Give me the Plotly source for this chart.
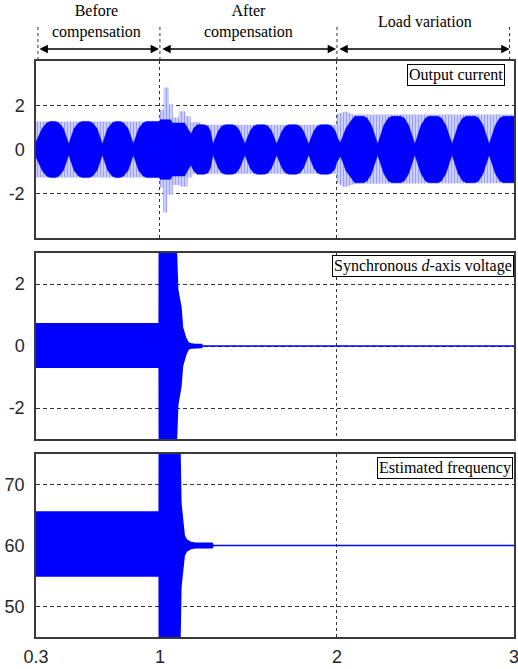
import plotly.graph_objects as go

# ---------------- data ----------------
# x-axis (time, s)
x_ticks = [0.3, 1, 2, 3]
x_tick_text = ["0.3", "1", "2", "3"]

# Output current: outer envelope of the oscillation (upper / lower edge)
cur_up_t = [0.30, 0.998, 1.0, 1.021, 1.022, 1.050, 1.051, 1.072, 1.073, 1.106, 1.107, 1.145,
            1.146, 1.173, 1.174, 1.229, 1.230, 1.998, 2.0, 2.05, 2.09, 3.0]
cur_up = [1.27, 1.27, 1.80, 1.80, 2.80, 2.80, 2.05, 2.05, 1.45, 1.45, 1.73, 1.73,
          1.50, 1.50, 1.23, 1.23, 1.12, 1.12, 1.60, 1.72, 1.58, 1.58]
cur_lo_t = [0.30, 0.998, 1.0, 1.018, 1.019, 1.040, 1.041, 1.072, 1.073, 1.117, 1.118, 1.156,
            1.157, 1.184, 1.185, 1.998, 2.0, 2.04, 2.10, 3.0]
cur_lo = [-1.27, -1.27, -1.73, -1.73, -2.85, -2.85, -2.05, -2.05, -1.60, -1.60, -1.68, -1.68,
          -1.27, -1.27, -1.10, -1.10, -1.50, -1.72, -1.55, -1.52]

# Output current: dense (dark) core half-width, beating between lobes and waists
core_t = [0.300, 0.315, 0.335, 0.360, 0.380, 0.410, 0.430, 0.455, 0.470, 0.485,
          0.500, 0.515, 0.540, 0.560, 0.600, 0.620, 0.645, 0.660, 0.675,
          0.690, 0.705, 0.730, 0.750, 0.775, 0.795, 0.820, 0.835, 0.850,
          0.865, 0.880, 0.905, 0.925, 0.998,
          1.000, 1.060, 1.070, 1.140, 1.160, 1.175, 1.190, 1.210, 1.250,
          1.270, 1.285, 1.300, 1.315, 1.330, 1.350, 1.370, 1.410,
          1.430, 1.450, 1.465, 1.480, 1.495, 1.510, 1.530, 1.550, 1.590,
          1.610, 1.630, 1.645, 1.660, 1.675, 1.690, 1.710, 1.730, 1.770,
          1.790, 1.810, 1.825, 1.840, 1.855, 1.870, 1.890, 1.910, 1.950,
          1.970, 1.990, 1.998, 2.005, 2.020, 2.035, 2.050, 2.080, 2.100, 2.150,
          2.170, 2.195, 2.213, 2.230, 2.247, 2.265, 2.290, 2.310, 2.360,
          2.380, 2.405, 2.423, 2.440, 2.457, 2.475, 2.500, 2.520, 2.570,
          2.590, 2.615, 2.633, 2.650, 2.667, 2.685, 2.710, 2.730, 2.780,
          2.800, 2.825, 2.843, 2.860, 2.877, 2.895, 2.920, 2.940, 3.000]
core_hw = [0.35, 0.60, 0.95, 1.20, 1.27, 1.27, 1.20, 0.95, 0.60, 0.25,
           0.60, 0.95, 1.20, 1.27, 1.27, 1.20, 0.95, 0.60, 0.25,
           0.60, 0.95, 1.20, 1.27, 1.27, 1.20, 0.95, 0.60, 0.25,
           0.60, 0.95, 1.20, 1.27, 1.27,
           1.35, 1.35, 1.20, 1.20, 0.90, 0.70, 0.95, 1.12, 1.12,
           1.06, 0.85, 0.25, 0.55, 0.85, 1.06, 1.12, 1.12,
           1.06, 0.85, 0.55, 0.25, 0.55, 0.85, 1.06, 1.12, 1.12,
           1.06, 0.85, 0.55, 0.25, 0.55, 0.85, 1.06, 1.12, 1.12,
           1.06, 0.85, 0.55, 0.25, 0.55, 0.85, 1.06, 1.12, 1.12,
           1.06, 0.85, 0.60, 0.50, 0.30, 0.60, 0.95, 1.30, 1.50, 1.50,
           1.42, 1.10, 0.65, 0.25, 0.65, 1.10, 1.42, 1.50, 1.50,
           1.42, 1.10, 0.65, 0.25, 0.65, 1.10, 1.42, 1.50, 1.50,
           1.42, 1.10, 0.65, 0.25, 0.65, 1.10, 1.42, 1.50, 1.50,
           1.42, 1.10, 0.65, 0.25, 0.65, 1.10, 1.42, 1.50, 1.50]

# Synchronous d-axis voltage: envelope
vd_t = [0.30, 0.996, 0.997, 1.090, 1.100, 1.118, 1.127, 1.145, 1.160, 1.180, 1.200, 1.235, 1.240, 3.0]
vd_up = [0.72, 0.72, 3.50, 3.50, 1.80, 1.26, 0.60, 0.25, 0.10, 0.06, 0.05, 0.05, 0.0, 0.0]
vd_lo = [-0.68, -0.68, -3.50, -3.50, -1.90, -1.30, -0.65, -0.28, -0.10, -0.06, -0.05, -0.05, 0.0, 0.0]

# Estimated frequency: envelope
f_t = [0.30, 0.996, 0.997, 1.110, 1.118, 1.127, 1.137, 1.150, 1.174, 1.200, 1.295, 1.300, 3.0]
f_up = [65.5, 65.5, 80.0, 80.0, 66.9, 64.2, 61.6, 60.9, 60.5, 60.35, 60.35, 60.0, 60.0]
f_lo = [55.0, 55.0, 40.0, 40.0, 53.2, 55.8, 58.4, 59.1, 59.5, 59.65, 59.65, 60.0, 60.0]

# ---------------- figure ----------------
BLUE = "#0000ff"
STRIPE = "#4f58ff"
GRID = "#333333"
FRAME = "#3a3a3a"
W, H = 518, 669


def band(t_up, up, t_lo, lo):
    """Closed polygon: upper edge left-to-right, lower edge right-to-left."""
    return list(t_up) + list(t_lo)[::-1], list(up) + list(lo)[::-1]


fig = go.Figure()

# Output current
bx, by = band(cur_up_t, cur_up, cur_lo_t, cur_lo)
fig.add_trace(go.Scatter(
    x=bx, y=by, fill="toself", mode="lines", line=dict(width=0, color=STRIPE),
    fillcolor="rgba(0,0,0,0)",
    fillpattern=dict(shape="|", fgcolor=STRIPE, bgcolor="#e4e6ff", size=3, solidity=0.55),
    hoverinfo="skip", xaxis="x", yaxis="y"))
cx, cy = band(core_t, core_hw, core_t, [-v for v in core_hw])
fig.add_trace(go.Scatter(
    x=cx, y=cy, fill="toself", mode="lines", line=dict(width=0.5, color=BLUE),
    fillcolor=BLUE, hoverinfo="skip", xaxis="x", yaxis="y"))

# d-axis voltage
vx, vy = band(vd_t, vd_up, vd_t, vd_lo)
fig.add_trace(go.Scatter(
    x=vx, y=vy, fill="toself", mode="lines", line=dict(width=1.6, color=BLUE),
    fillcolor=BLUE, hoverinfo="skip", xaxis="x2", yaxis="y2"))

# frequency
fx, fy = band(f_t, f_up, f_t, f_lo)
fig.add_trace(go.Scatter(
    x=fx, y=fy, fill="toself", mode="lines", line=dict(width=1.6, color=BLUE),
    fillcolor=BLUE, hoverinfo="skip", xaxis="x3", yaxis="y3"))


def pdom(top_px, bot_px):
    return [(H - bot_px) / H, (H - top_px) / H]


x_dom = [36 / W, 514 / W]
axis_common = dict(showline=True, mirror=True, linecolor=FRAME, linewidth=1.5,
                   showgrid=True, gridcolor=GRID, gridwidth=1, zeroline=False,
                   automargin=False, ticks="",
                   tickfont=dict(family="Liberation Sans, Arial", size=18, color="#262626"))

xa = dict(axis_common, range=[0.3, 3], tickvals=x_ticks, ticktext=x_tick_text,
          griddash="3px,3px", domain=x_dom)
fig.update_layout(
    width=W, height=H, margin=dict(l=0, r=0, t=0, b=0),
    paper_bgcolor="white", plot_bgcolor="white", showlegend=False,
    xaxis=dict(xa, anchor="y", showticklabels=False),
    xaxis2=dict(xa, anchor="y2", showticklabels=False, matches="x"),
    xaxis3=dict(xa, anchor="y3", showticklabels=True, matches="x", ticklabelstandoff=3,
                ticklabeloverflow="allow"),
    yaxis=dict(axis_common, anchor="x", domain=pdom(61, 238), range=[-4, 4],
               tickvals=[-2, 0, 2], ticktext=["-2", "0", "2"], griddash="4px,3px",
               ticklabelstandoff=6),
    yaxis2=dict(axis_common, anchor="x2", domain=pdom(253, 439), range=[-3, 3],
                tickvals=[-2, 0, 2], ticktext=["-2", "0", "2"], griddash="4px,3px",
                ticklabelstandoff=6),
    yaxis3=dict(axis_common, anchor="x3", domain=pdom(454, 637), range=[45, 75],
                tickvals=[50, 60, 70], ticktext=["50", "60", "70"], griddash="4px,3px",
                ticklabelstandoff=6),
)

SERIF = "Liberation Serif, Times New Roman, serif"

# panel labels in boxes
labels = [
    ("Output current", 505, 64),
    ("Synchronous <i>d</i>-axis voltage", 514, 255),
    ("Estimated frequency", 513, 457),
]
for txt, xr, yt in labels:
    fig.add_annotation(text=txt, xref="paper", yref="paper", x=xr / W, y=(H - yt) / H,
                       xanchor="right", yanchor="top", showarrow=False,
                       font=dict(family=SERIF, size=16, color="black"),
                       bgcolor="white", bordercolor="black", borderwidth=1, borderpad=1)

# stage headers
headers = [("Before<br>compensation", 0.643), ("After<br>compensation", 1.5),
           ("Load variation", 2.5)]
for txt, xc in headers:
    fig.add_annotation(text=txt, xref="x", yref="paper", x=xc, y=(H - 22) / H,
                       xanchor="center", yanchor="middle", showarrow=False,
                       font=dict(family=SERIF, size=16, color="black"))

# stage boundaries and double-headed arrows
bounds = [0.311, 1.0, 2.0, 2.975]
for b in bounds:
    fig.add_shape(type="line", xref="x", yref="paper", x0=b, x1=b,
                  y0=(H - 60) / H, y1=(H - 24) / H,
                  line=dict(color=GRID, width=1, dash="3px,3px"))
arrow_y = (H - 49) / H
for a, b in [(0.311, 0.995), (1.005, 1.995), (2.005, 2.975)]:
    fig.add_annotation(x=b, y=arrow_y, ax=a, ay=0, xref="x", yref="paper",
                       axref="x", ayref="pixel", text="", showarrow=True,
                       arrowhead=2, arrowside="end+start", arrowsize=1.2,
                       arrowwidth=1.4, arrowcolor="black")

fig.write_html("out.html")
